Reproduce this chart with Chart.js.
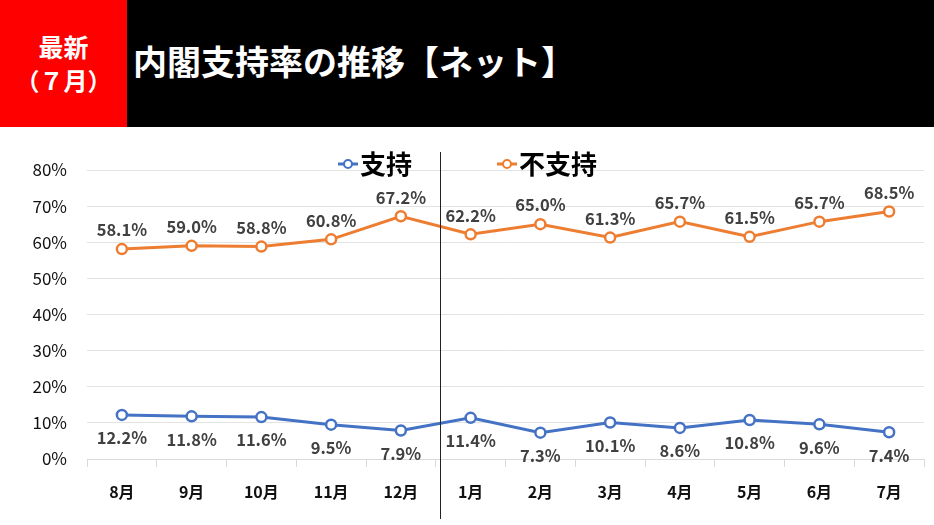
<!DOCTYPE html>
<html>
<head>
<meta charset="utf-8">
<script src="https://cdn.jsdelivr.net/npm/chart.js@4"></script>
<style>
  body { margin: 0; width: 934px; height: 525px; background: #fff; overflow: hidden;
         font-family: "Noto Sans CJK JP", sans-serif; }
  #header { position: absolute; left: 0; top: 0; width: 934px; height: 127px; background: #000; }
  #badge { position: absolute; left: 0; top: 0; width: 127px; height: 127px; background: #ff0000;
           color: #fff; font-weight: bold; text-align: center; }
  #badge .l1 { position: absolute; left: 0; width: 127px; top: 30px; font-size: 25px; line-height: 32px; }
  #badge .l2 { position: absolute; left: 0; width: 127px; top: 64px; font-size: 24px; line-height: 32px; }
  #title { position: absolute; left: 133px; top: 39px; color: #fff; font-size: 34px; font-weight: bold;
           line-height: 44px; }
  #wrap { position: absolute; left: 0; top: 127px; width: 934px; height: 398px; }
</style>
</head>
<body>
<div id="header">
  <div id="badge"><div class="l1">最新</div><div class="l2">（７月）</div></div>
  <div id="title">内閣支持率の推移【ネット】</div>
</div>
<div id="wrap"><canvas id="chart" width="934" height="398"></canvas></div>
<script>
const months = ['8月', '9月', '10月', '11月', '12月', '1月', '2月', '3月', '4月', '5月', '6月', '7月'];
const support = [12.2, 11.8, 11.6, 9.5, 7.9, 11.4, 7.3, 10.1, 8.6, 10.8, 9.6, 7.4];
const nonSupport = [58.1, 59.0, 58.8, 60.8, 67.2, 62.2, 65.0, 61.3, 65.7, 61.5, 65.7, 68.5];
const seriesNames = ['支持', '不支持'];

const BLUE = '#4472c4';
const ORANGE = '#ed7d31';
const FONT = '"Noto Sans CJK JP", sans-serif';

// 値ラベル（不支持は上、支持は下）
const valueLabels = {
  id: 'valueLabels',
  afterDatasetsDraw(chart) {
    const ctx = chart.ctx;
    ctx.save();
    ctx.font = 'bold 16.5px ' + FONT;
    ctx.fillStyle = '#404040';
    ctx.textAlign = 'center';
    ctx.textBaseline = 'middle';
    chart.data.datasets.forEach((ds, i) => {
      chart.getDatasetMeta(i).data.forEach((pt, j) => {
        const dy = i === 0 ? 23 : -19;
        ctx.fillText(ds.data[j].toFixed(1) + '%', pt.x, pt.y + dy);
      });
    });
    ctx.restore();
  }
};

// 12月と1月の間の縦線 + 凡例
const extras = {
  id: 'extras',
  afterDraw(chart) {
    const ctx = chart.ctx;
    const x = chart.scales.x;
    const sep = (x.getPixelForValue(4) + x.getPixelForValue(5)) / 2 + 4;
    ctx.save();
    ctx.strokeStyle = '#222';
    ctx.lineWidth = 1;
    ctx.beginPath();
    ctx.moveTo(Math.round(sep) + 0.5, 25);
    ctx.lineTo(Math.round(sep) + 0.5, 392);
    ctx.stroke();

    const items = [{ x: 338, color: BLUE, text: seriesNames[0] }, { x: 497, color: ORANGE, text: seriesNames[1] }];
    const ly = 37;
    items.forEach(it => {
      ctx.strokeStyle = it.color;
      ctx.lineWidth = 3;
      ctx.beginPath();
      ctx.moveTo(it.x, ly);
      ctx.lineTo(it.x + 20, ly);
      ctx.stroke();
      ctx.fillStyle = '#fff';
      ctx.lineWidth = 2;
      ctx.beginPath();
      ctx.arc(it.x + 10, ly, 4, 0, Math.PI * 2);
      ctx.fill();
      ctx.stroke();
      ctx.fillStyle = '#000';
      ctx.font = 'bold 26px ' + FONT;
      ctx.textAlign = 'left';
      ctx.textBaseline = 'middle';
      ctx.fillText(it.text, it.x + 22, ly);
    });
    ctx.restore();
  }
};

function createLineChart() {
  const ctx = document.getElementById('chart').getContext('2d');
  new Chart(ctx, {
    type: 'line',
    data: {
      labels: months,
      datasets: [
        {
          label: seriesNames[0],
          data: support,
          borderColor: BLUE,
          borderWidth: 3,
          pointRadius: 5,
          pointBorderWidth: 2.5,
          pointBackgroundColor: '#fff',
          pointBorderColor: BLUE,
        },
        {
          label: seriesNames[1],
          data: nonSupport,
          borderColor: ORANGE,
          borderWidth: 3,
          pointRadius: 5,
          pointBorderWidth: 2.5,
          pointBackgroundColor: '#fff',
          pointBorderColor: ORANGE,
        },
      ],
    },
    options: {
      responsive: false,
      animation: false,
      layout: { padding: { top: 43, right: 10, left: 0, bottom: 0 } },
      plugins: {
        legend: { display: false },
        tooltip: { enabled: false },
      },
      scales: {
        x: {
          offset: true,
          grid: { offset: true, drawOnChartArea: false, tickLength: 8, color: '#d9d9d9' },
          border: { color: '#d9d9d9' },
          ticks: { padding: 15, color: '#111', font: { family: FONT, size: 16, weight: 'bold' } },
          afterFit(scale) { scale.height = 66; },
        },
        y: {
          min: 0,
          max: 80,
          ticks: {
            stepSize: 10,
            padding: 20,
            color: '#111',
            font: { family: FONT, size: 17 },
            callback: v => v + '%',
          },
          grid: { color: '#e3e3e3', drawTicks: false },
          border: { display: false },
          afterFit(scale) { scale.width = 87; },
        },
      },
    },
    plugins: [valueLabels, extras],
  });
}

document.addEventListener('DOMContentLoaded', () => {
  createLineChart();
});
</script>
</body>
</html>
